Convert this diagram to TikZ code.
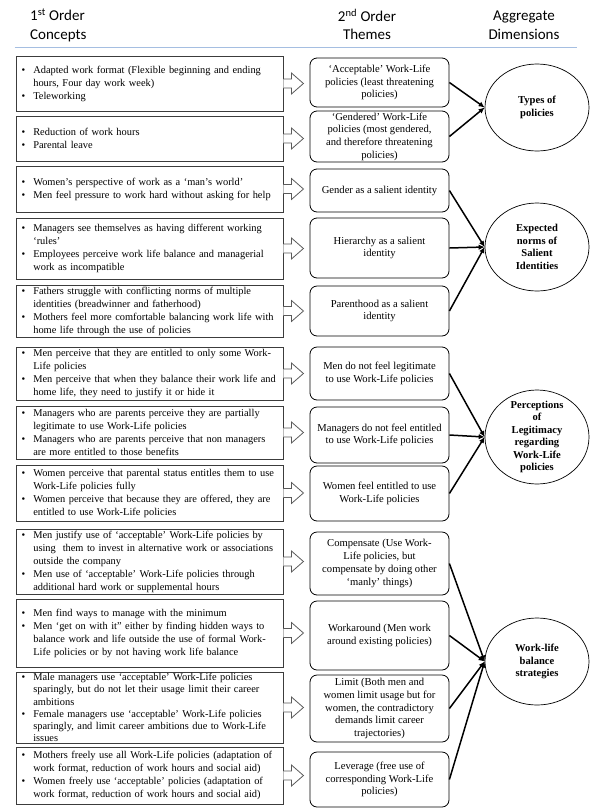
\documentclass[tikz,border=0pt]{standalone}
\usepackage{fontspec}
\setmainfont{Liberation Serif}
\newfontfamily\hdrfont{Carlito}
\usetikzlibrary{shapes.geometric,arrows.meta}
\definecolor{boxgray}{RGB}{60,60,60}
\definecolor{arrowgray}{RGB}{90,90,90}
\definecolor{rulecol}{RGB}{165,190,225}
\newcommand{\bl}[1]{\mbox{\makebox[11.6pt][l]{\textbullet}#1}}
\newcommand{\cl}[1]{\mbox{\hspace*{11.6pt}#1}}
\newcommand{\hstrut}{\rule{0pt}{12pt}}
\begin{document}
\begin{tikzpicture}[x=1pt,y=-1pt,
  lbox/.style={draw=boxgray, line width=0.9pt, minimum width=267pt, text width=255.6pt, inner xsep=5.7pt, inner ysep=0pt, align=left, font=\fontsize{10.4}{13}\selectfont},
  mbox/.style={draw=black, line width=0.8pt, rounded corners=7pt, minimum width=139pt, inner xsep=2pt, inner ysep=0pt, align=center, font=\fontsize{10.6}{12.7}\selectfont},
  dim/.style={ellipse, draw=black, line width=0.7pt, minimum width=104pt, inner sep=0pt},
  dimtext/.style={align=center, inner sep=0pt, font=\bfseries\fontsize{10.6}{12.5}\selectfont},
  barrow/.style={draw=arrowgray, fill=white, line width=0.8pt, line join=miter},
  conn/.style={line width=1.5pt, -{Latex[length=6pt,width=5.5pt]}},
  hdr/.style={font=\hdrfont\fontsize{15}{18.5}\selectfont, inner sep=0pt, anchor=north}
]
\useasboundingbox (0,0) rectangle (612,812);

% headers
\node[hdr, align=left, anchor=north west] (h1) at (30,8.7) {\hstrut 1\textsuperscript{st} Order\\Concepts};
\node[hdr, align=center] (h2) at (367,8.7) {\hstrut 2\textsuperscript{nd} Order\\Themes};
\node[hdr, align=center] (h3) at (524,8.7) {\hstrut Aggregate\\Dimensions};
\draw[rulecol, line width=0.9pt] (14.6,47.7) -- (577,47.7);

% first order concept boxes
\node[lbox, minimum height=55pt] (L1) at (149.5,83.5) {\bl{Adapted work format (Flexible beginning and ending}\\\cl{hours, Four day work week)}\\\bl{Teleworking}};
\node[lbox, minimum height=45pt] (L2) at (149.5,138.5) {\bl{Reduction of work hours}\\\bl{Parental leave}};
\node[lbox, minimum height=46pt] (L3) at (149.5,189) {\bl{Women’s perspective of work as a ‘man’s world’}\\\bl{Men feel pressure to work hard without asking for help}};
\node[lbox, minimum height=61pt] (L4) at (149.5,248.5) {\bl{Managers see themselves as having different working}\\\cl{‘rules’}\\\bl{Employees perceive work life balance and managerial}\\\cl{work as incompatible}};
\node[lbox, minimum height=52pt] (L5) at (149.5,311) {\bl{Fathers struggle with conflicting norms of multiple}\\\cl{identities (breadwinner and fatherhood)}\\\bl{Mothers feel more comfortable balancing work life with}\\\cl{home life through the use of policies}};
\node[lbox, minimum height=53pt] (L6) at (149.5,373.5) {\bl{Men perceive that they are entitled to only some Work-}\\\cl{Life policies}\\\bl{Men perceive that when they balance their work life and}\\\cl{home life, they need to justify it or hide it}};
\node[lbox, minimum height=53pt] (L7) at (149.5,432.5) {\bl{Managers who are parents perceive they are partially}\\\cl{legitimate to use Work-Life policies}\\\bl{Managers who are parents perceive that non managers}\\\cl{are more entitled to those benefits}};
\node[lbox, minimum height=56pt] (L8) at (149.5,493) {\bl{Women perceive that parental status entitles them to use}\\\cl{Work-Life policies fully}\\\bl{Women perceive that because they are offered, they are}\\\cl{entitled to use Work-Life policies}};
\node[lbox, minimum height=65pt] (L9) at (149.5,561.5) {\bl{Men justify use of ‘acceptable’ Work-Life policies by}\\\cl{using\ \ them to invest in alternative work or associations}\\\cl{outside the company}\\\bl{Men use of ‘acceptable’ Work-Life policies through}\\\cl{additional hard work or supplemental hours}};
\node[lbox, minimum height=68pt] (L10) at (149.5,633) {\bl{Men find ways to manage with the minimum}\\\bl{Men ‘get on with it” either by finding hidden ways to}\\\cl{balance work and life outside the use of formal Work-}\\\cl{Life policies or by not having work life balance}};
\node[lbox, minimum height=71pt, font=\fontsize{10.4}{12.2}\selectfont] (L11) at (149.5,707.5) {\bl{Male managers use ‘acceptable’ Work-Life policies}\\\cl{sparingly, but do not let their usage limit their career}\\\cl{ambitions}\\\bl{Female managers use ‘acceptable’ Work-Life policies}\\\cl{sparingly, and limit career ambitions due to Work-Life}\\\cl{issues}};
\node[lbox, minimum height=57pt] (L12) at (149.5,775.5) {\bl{Mothers freely use all Work-Life policies (adaptation of}\\\cl{work format, reduction of work hours and social aid)}\\\bl{Women freely use ‘acceptable’ policies (adaptation of}\\\cl{work format, reduction of work hours and social aid)}};

% block arrows
\foreach \n in {L1,L2,L3,L4,L5,L6,L7,L8,L9,L10,L11,L12}{
  \draw[barrow] ([yshift=4.5pt]\n.east) -- ++(8,0) -- ++(0,-6) -- ++(12,10.5) -- ++(-12,10.5) -- ++(0,-6) -- ++(-8,0);
}

% second order themes
\node[mbox, minimum height=49pt] (M1) at (379.5,82.5) {‘Acceptable’ Work-Life\\policies (least threatening\\policies)};
\node[mbox, minimum height=51pt] (M2) at (379.5,136.5) {‘Gendered’ Work-Life\\policies (most gendered,\\and therefore threatening\\policies)};
\node[mbox, minimum height=43pt] (M3) at (379.5,190.5) {Gender as a salient identity};
\node[mbox, minimum height=60pt] (M4) at (379.5,248) {Hierarchy as a salient\\identity};
\node[mbox, minimum height=50pt] (M5) at (379.5,311) {Parenthood as a salient\\identity};
\node[mbox, minimum height=53pt] (M6) at (379.5,373.5) {Men do not feel legitimate\\to use Work-Life policies};
\node[mbox, minimum height=56pt] (M7) at (379.5,435) {Managers do not feel entitled\\to use Work-Life policies};
\node[mbox, minimum height=55pt] (M8) at (379.5,493.5) {Women feel entitled to use\\Work-Life policies};
\node[mbox, minimum height=63pt] (M9) at (379.5,563.5) {Compensate (Use Work-\\Life policies, but\\compensate by doing other\\‘manly’ things)};
\node[mbox, minimum height=69pt] (M10) at (379.5,635.5) {Workaround (Men work\\around existing policies)};
\node[mbox, minimum height=67pt] (M11) at (379.5,708.5) {Limit (Both men and\\women limit usage but for\\women, the contradictory\\demands limit career\\trajectories)};
\node[mbox, minimum height=55pt] (M12) at (379.5,779.5) {Leverage (free use of\\corresponding Work-Life\\policies)};

% aggregate dimensions
\node[dim, minimum height=87pt] (D1) at (537,107.5) {};
\node[dimtext] (D1t) at (D1.center) {Types of\\policies};
\node[dim, minimum height=88pt] (D2) at (537,247) {};
\node[dimtext] (D2t) at (D2.center) {Expected\\norms of\\Salient\\Identities};
\node[dim, minimum height=94pt] (D3) at (537,437) {};
\node[dimtext] (D3t) at (D3.center) {Perceptions\\of\\Legitimacy\\regarding\\Work-Life\\policies};
\node[dim, minimum height=87pt] (D4) at (537,661.5) {};
\node[dimtext] (D4t) at (D4.center) {Work-life\\balance\\strategies};

% connectors
\foreach \m in {M1,M2}{\draw[conn] (\m.east) -- (D1.west);}
\foreach \m in {M3,M4,M5}{\draw[conn] (\m.east) -- (D2.west);}
\foreach \m in {M6,M7,M8}{\draw[conn] (\m.east) -- (D3.west);}
\foreach \m in {M9,M10,M11,M12}{\draw[conn] (\m.east) -- (D4.west);}
\end{tikzpicture}
\end{document}
